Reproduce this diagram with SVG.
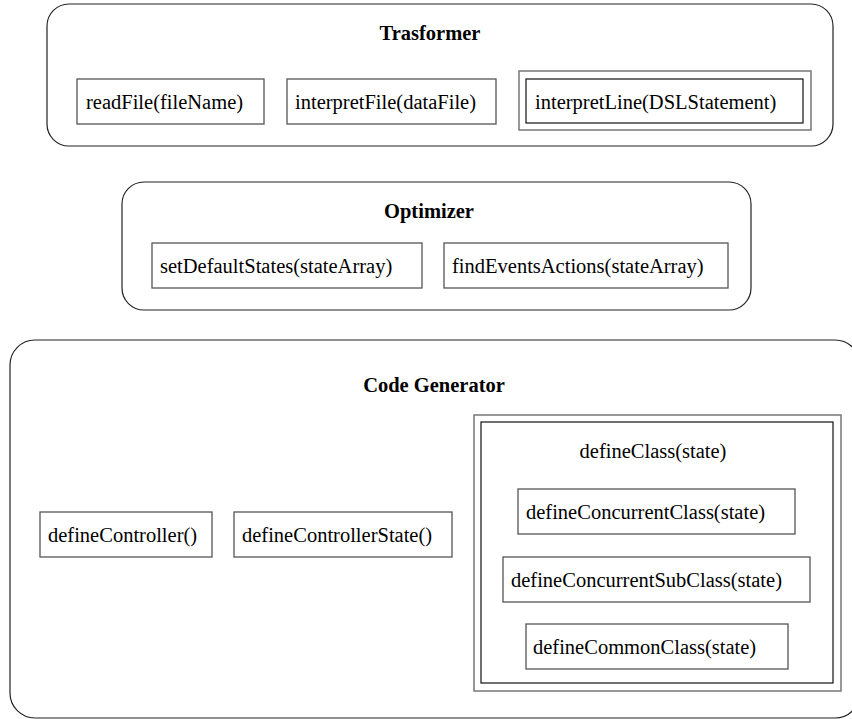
<svg xmlns="http://www.w3.org/2000/svg" width="852" height="719" viewBox="0 0 852 719">
<style>
.cluster{fill:none;stroke:#222;stroke-width:1.2}
.node{fill:none;stroke:#555;stroke-width:1.3}
.outer{fill:none;stroke:#777;stroke-width:1.5}
.inner{fill:none;stroke:#111;stroke-width:1.2}
.t{font-family:"Liberation Serif","Times New Roman",serif;font-size:20.5px;fill:#000}
.title{font-family:"Liberation Serif","Times New Roman",serif;font-size:20.5px;font-weight:bold;fill:#000;text-anchor:middle}
</style>
<rect width="852" height="719" fill="#fff"/>
<g id="trasformer">
<rect class="cluster" x="47" y="4" width="786" height="142" rx="22" ry="22"/>
<text class="title" x="430" y="40">Trasformer</text>
</g>
<g id="readFile">
<rect class="node" x="77" y="79" width="187" height="45"/>
<text class="t" x="86" y="109">readFile(fileName)</text>
</g>
<g id="interpretFile">
<rect class="node" x="287" y="79" width="209" height="45"/>
<text class="t" x="295" y="109">interpretFile(dataFile)</text>
</g>
<g id="interpretLine">
<rect class="outer" x="519" y="71" width="292" height="59"/>
<rect class="inner" x="526" y="79" width="277" height="44"/>
<text class="t" x="535" y="109">interpretLine(DSLStatement)</text>
</g>
<g id="optimizer">
<rect class="cluster" x="122" y="182" width="629" height="128" rx="22" ry="22"/>
<text class="title" x="429" y="218">Optimizer</text>
</g>
<g id="setDefaultStates">
<rect class="node" x="152" y="243" width="270" height="45"/>
<text class="t" x="160" y="273">setDefaultStates(stateArray)</text>
</g>
<g id="findEventsActions">
<rect class="node" x="444" y="243" width="284" height="45"/>
<text class="t" x="452" y="273">findEventsActions(stateArray)</text>
</g>
<g id="codeGenerator">
<rect class="cluster" x="10" y="340" width="850" height="378" rx="25" ry="25"/>
<text class="title" x="434" y="392">Code Generator</text>
</g>
<g id="defineController">
<rect class="node" x="40" y="512" width="172" height="45"/>
<text class="t" x="48" y="542">defineController()</text>
</g>
<g id="defineControllerState">
<rect class="node" x="234" y="512" width="218" height="45"/>
<text class="t" x="242" y="542">defineControllerState()</text>
</g>
<g id="defineClass">
<rect class="outer" x="474" y="415" width="367" height="276"/>
<rect class="inner" x="481" y="422" width="352" height="261"/>
<text class="t" x="653" y="458" text-anchor="middle">defineClass(state)</text>
</g>
<g id="defineConcurrentClass">
<rect class="node" x="518" y="489" width="277" height="45"/>
<text class="t" x="526" y="519">defineConcurrentClass(state)</text>
</g>
<g id="defineConcurrentSubClass">
<rect class="node" x="503" y="557" width="307" height="45"/>
<text class="t" x="511" y="587">defineConcurrentSubClass(state)</text>
</g>
<g id="defineCommonClass">
<rect class="node" x="526" y="624" width="262" height="45"/>
<text class="t" x="533" y="654">defineCommonClass(state)</text>
</g>
<g id="connectors"></g>
</svg>
